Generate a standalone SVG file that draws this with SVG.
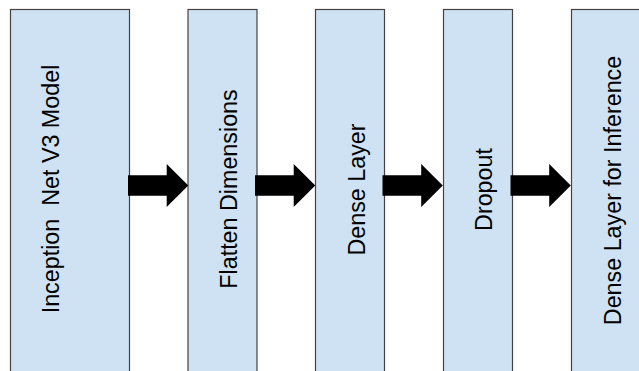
<svg xmlns="http://www.w3.org/2000/svg" xmlns:xlink="http://www.w3.org/1999/xlink" width="639" height="371" viewBox="0 0 639 371">
<style>
.box{fill:#cfe2f3;stroke:#434343;stroke-width:1.2}
.lbl{font-family:"Liberation Sans",Arial,sans-serif;font-size:23.3px;fill:#000;text-anchor:middle;white-space:pre}
.arr{fill:#000;stroke:none}
</style>
<defs>
<path id="arrow" class="arr" d="M0,-10.25 H38.7 V-21.5 L60.3,0 L38.7,21.5 V10.25 H0 Z"/>
</defs>
<rect width="639" height="371" fill="#fff"/>
<g id="node1"><rect class="box" x="10.5" y="9.5" width="119" height="370"/><text class="lbl" xml:space="preserve" transform="translate(59,189) rotate(-90)">Inception  Net V3 Model</text></g>
<g id="node2"><rect class="box" x="188" y="9.5" width="69" height="370"/><text class="lbl" transform="translate(237,189) rotate(-90)">Flatten Dimensions</text></g>
<g id="node3"><rect class="box" x="315.5" y="9.5" width="69" height="370"/><text class="lbl" transform="translate(364.5,189.5) rotate(-90)">Dense Layer</text></g>
<g id="node4"><rect class="box" x="443.5" y="9.5" width="69" height="370"/><text class="lbl" transform="translate(491.7,189.5) rotate(-90)">Dropout</text></g>
<g id="node5"><rect class="box" x="571.5" y="9.5" width="69" height="370"/><text class="lbl" transform="translate(620.7,190.5) rotate(-90)">Dense Layer for Inference</text></g>
<g id="connectors">
<use xlink:href="#arrow" href="#arrow" transform="translate(128,185.5)"/>
<use xlink:href="#arrow" href="#arrow" transform="translate(255,185.5)"/>
<use xlink:href="#arrow" href="#arrow" transform="translate(382.5,185.5)"/>
<use xlink:href="#arrow" href="#arrow" transform="translate(510.5,185.5)"/>
</g>
</svg>
